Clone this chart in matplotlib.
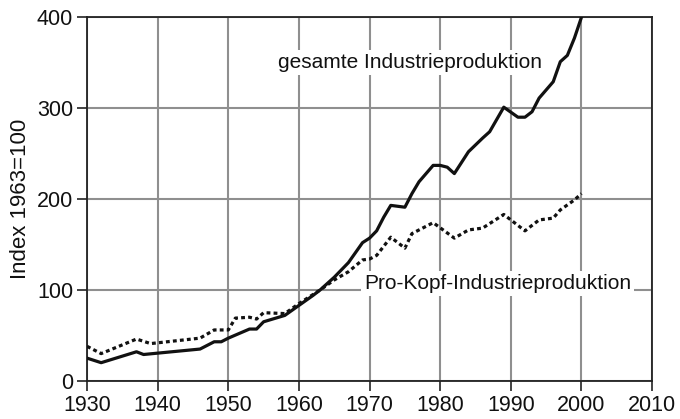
import matplotlib
matplotlib.use("Agg")
import matplotlib.pyplot as plt

years_total = [1930, 1932, 1937, 1938, 1946, 1948, 1949, 1950, 1953, 1954, 1955, 1958,
               1960, 1962, 1963, 1965, 1967, 1968, 1969, 1970, 1971, 1972, 1973, 1975,
               1976, 1977, 1979, 1980, 1981, 1982, 1984, 1986, 1987, 1989, 1991, 1992,
               1993, 1994, 1996, 1997, 1998, 1999, 2000]
total = [25, 20, 32, 29, 35, 43, 43, 47, 57, 57, 65, 72,
         83, 94, 100, 114, 130, 141, 152, 157, 165, 180, 193, 191,
         206, 219, 237, 237, 235, 228, 252, 267, 274, 301, 290, 290,
         296, 311, 329, 351, 358, 377, 400]

years_pc = [1930, 1932, 1937, 1939, 1946, 1948, 1950, 1951, 1953, 1954, 1955, 1958,
            1960, 1963, 1965, 1967, 1969, 1970, 1971, 1973, 1975, 1976, 1979, 1982,
            1984, 1986, 1989, 1992, 1994, 1996, 1997, 1999, 2000]
per_capita = [38, 30, 46, 41, 47, 56, 56, 69, 70, 68, 75, 74,
              85, 100, 111, 120, 133, 134, 138, 158, 146, 162, 174, 157,
              166, 168, 183, 165, 177, 179, 188, 199, 206]

x_ticks = [1930, 1940, 1950, 1960, 1970, 1980, 1990, 2000, 2010]
y_ticks = [0, 100, 200, 300, 400]
y_label = "Index 1963=100"
label_total = "gesamte Industrieproduktion"
label_pc = "Pro-Kopf-Industrieproduktion"

plt.rcParams['font.family'] = ['Liberation Sans', 'DejaVu Sans']

fig = plt.figure(figsize=(6.8, 4.19), dpi=100)
ax = fig.add_axes([0.128, 0.091, 0.831, 0.868])

ax.plot(years_total, total, color="#111111", lw=2.3, solid_joinstyle="round", zorder=4)
ax.plot(years_pc, per_capita, color="#111111", lw=2.3, linestyle=(0, (1.2, 1.0)), zorder=4)

ax.set_xlim(1930, 2010)
ax.set_ylim(0, 400)
ax.set_xticks(x_ticks)
ax.set_yticks(y_ticks)
ax.grid(True, color="#8f8f8f", lw=1.5)
ax.set_axisbelow(True)
for s in ax.spines.values():
    s.set_color("#222222")
    s.set_linewidth(1.3)
ax.tick_params(axis="both", labelsize=15.5, length=7, width=1.2, color="#222222",
               labelcolor="#111111", pad=3)
ax.set_ylabel(y_label, fontsize=16, color="#111111", labelpad=4)

ax.text(1975.7, 350, label_total, fontsize=15, ha="center", va="center", color="#111111",
        bbox=dict(facecolor="white", edgecolor="none", pad=2), zorder=3)
ax.text(1988.1, 107, label_pc, fontsize=15, ha="center", va="center", color="#111111",
        bbox=dict(facecolor="white", edgecolor="none", pad=2), zorder=3)

fig.savefig("out.png", dpi=100)
